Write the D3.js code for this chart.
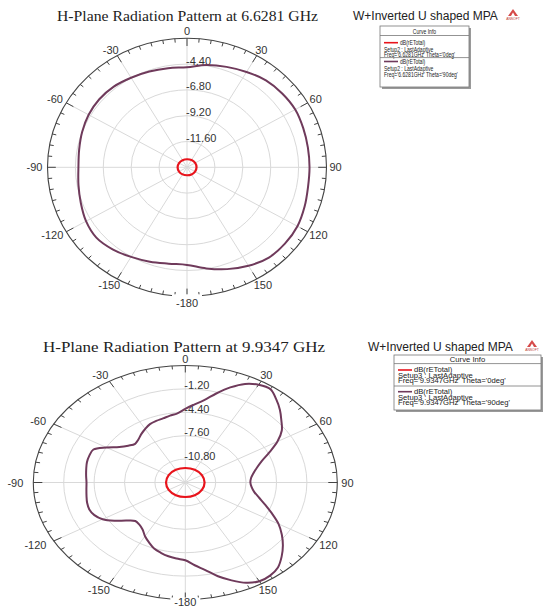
<!DOCTYPE html>
<html>
<head>
<meta charset="utf-8">
<script src="https://cdn.jsdelivr.net/npm/d3@7"></script>
<style>
  html, body { margin: 0; padding: 0; background: #fff; }
  svg { display: block; }
</style>
</head>
<body>
<svg id="chart" width="543" height="608"></svg>
<script>
// Angle ticks around each polar frame, clockwise from the top (degrees)
const angleTickValues = [0, 30, 60, 90, 120, 150, 180, 210, 240, 270, 300, 330];
const angleTickLabels = ["0", "30", "60", "90", "120", "150", "-180", "-150", "-120", "-90", "-60", "-30"];

const legendHeading = "W+Inverted U shaped MPA";
const legendHeader = "Curve Info";

// ---- 6.6281 GHz ----
const lowTitle = "H-Plane Radiation Pattern at 6.6281 GHz";
const lowRange = [-14, -2];
const lowRingLabels = ["-4.40", "-6.80", "-9.20", "-11.60"];
const lowAngles = [0, 10, 20, 30, 40, 50, 60, 70, 80, 90, 100, 110, 120, 130, 140, 150, 160, 170,
                   180, 190, 200, 210, 220, 230, 240, 250, 260, 270, 280, 290, 300, 310, 320, 330, 340, 350];
const lowTheta90 = [-4.69, -4.34, -4.06, -3.76, -3.44, -3.31, -3.25, -3.36, -3.44, -3.46, -3.43, -3.24,
                    -3.03, -2.98, -3.04, -3.42, -3.92, -4.45, -4.92, -4.90, -4.66, -4.38, -4.04, -3.82,
                    -3.97, -4.28, -4.52, -4.66, -4.58, -4.40, -4.23, -4.15, -4.20, -4.38, -4.52, -4.64];
const lowRedAngles = [0, 30, 60, 90, 120, 150, 180, 210, 240, 270, 300, 330];
const lowTheta0 = [-13.25, -13.22, -13.19, -13.18, -13.20, -13.23, -13.26, -13.24, -13.21, -13.19, -13.21, -13.24];
const lowLegendRows = [
  ["dB(rETotal)", "Setup2 : LastAdaptive", "Freq='6.6281GHz' Theta='0deg'"],
  ["dB(rETotal)", "Setup2 : LastAdaptive", "Freq='6.6281GHz' Theta='90deg'"]
];

// ---- 9.9347 GHz ----
const highTitle = "H-Plane Radiation Pattern at 9.9347 GHz";
const highRange = [-14, 2];
const highRingLabels = ["-1.20", "-4.40", "-7.60", "-10.80"];
const highAngles = d3.range(0, 360, 5);
const highTheta90 = [-3.92, -3.30, -2.56, -1.40, -0.16, 0.88, 1.44, 1.60, 0.88, 0.08, -0.80, -1.60,
                     -2.80, -4.24, -5.44, -6.20, -6.72, -7.05, -7.15, -7.00, -6.64, -5.95, -5.04, -3.92,
                     -2.67, -1.60, -0.59, 0.34, 1.17, 1.55, 1.60, 1.12, 0.24, -0.72, -1.84, -2.64,
                     -3.36, -3.56, -3.76, -4.05, -4.40, -4.96, -5.52, -6.16, -6.48, -6.56, -5.92, -4.88,
                     -3.95, -3.44, -3.25, -3.30, -3.44, -3.55, -3.60, -3.52, -3.41, -3.28, -3.25, -3.33,
                     -4.40, -5.52, -6.16, -6.53, -6.32, -5.92, -5.55, -5.20, -5.04, -4.93, -4.72, -4.50];
const highRedAngles = [0, 30, 60, 90, 120, 150, 180, 210, 240, 270, 300, 330];
const highTheta0 = [-12.02, -12.00, -11.98, -11.97, -11.98, -12.00, -12.02, -12.00, -11.98, -11.97, -11.98, -12.00];
const highLegendRows = [
  ["dB(rETotal)", "Setup3 : LastAdaptive", "Freq='9.9347GHz' Theta='0deg'"],
  ["dB(rETotal)", "Setup3 : LastAdaptive", "Freq='9.9347GHz' Theta='90deg'"]
];

const COLOR_THETA0 = "#e8141c";
const COLOR_THETA90 = "#6f3a5b";
const GRID = "#d9d9d9";
const LABEL = "#333";
const SANS = "Arial, 'Liberation Sans', sans-serif";
const SERIF = "'Times New Roman', 'Liberation Serif', serif";

const svg = d3.select("#chart");

function drawPolar(cfg) {
  const g = svg.append("g");
  const { cx, cy, rx, ry } = cfg;
  const f = d3.scaleLinear().domain(cfg.range).range([0, 1]);
  const rad = d => d * Math.PI / 180;
  const pt = (deg, k) => [cx + rx * k * Math.sin(rad(deg)), cy - ry * k * Math.cos(rad(deg))];

  // grid rings
  const ringVals = cfg.ringLabels.map(Number);
  g.selectAll(".ring").data(ringVals).join("ellipse")
    .attr("cx", cx).attr("cy", cy)
    .attr("rx", v => rx * f(v)).attr("ry", v => ry * f(v))
    .attr("fill", "none").attr("stroke", GRID).attr("stroke-width", 1);

  // spokes
  g.selectAll(".spoke").data(angleTickValues).join("line")
    .attr("x1", cx).attr("y1", cy)
    .attr("x2", a => pt(a, 1)[0]).attr("y2", a => pt(a, 1)[1])
    .attr("stroke", GRID).attr("stroke-width", 1);

  // outer frame with tick marks every 5 degrees
  g.append("ellipse").attr("cx", cx).attr("cy", cy).attr("rx", rx).attr("ry", ry)
    .attr("fill", "none").attr("stroke", "#444").attr("stroke-width", 1.1);
  const tickLen = 4 / ((rx + ry) / 2);
  g.selectAll(".tick").data(d3.range(0, 360, 5)).join("line")
    .attr("x1", a => pt(a, 1)[0]).attr("y1", a => pt(a, 1)[1])
    .attr("x2", a => pt(a, 1 - (a % 30 === 0 ? 2 : 1) * tickLen)[0])
    .attr("y2", a => pt(a, 1 - (a % 30 === 0 ? 2 : 1) * tickLen)[1])
    .attr("stroke", "#444").attr("stroke-width", 1);

  // angle labels
  angleTickValues.forEach((a, i) => {
    const t = g.append("text").text(angleTickLabels[i])
      .attr("font-family", SANS).attr("font-size", 11).attr("fill", LABEL)
      .attr("text-anchor", "middle").attr("dominant-baseline", "central");
    const w = t.node().getComputedTextLength();
    const s = Math.sin(rad(a)), c = Math.cos(rad(a));
    const [px, py] = pt(a, 1);
    const gap = s < -1e-6 ? cfg.gapNeg : cfg.gapPos;
    const vgap = a === 180 ? cfg.vgap180 : 7;
    const x = px + (w / 2 + gap) * s;
    const y = py - vgap * c;
    t.attr("x", x).attr("y", y);
    if (a === 180) {
      g.insert("rect", () => t.node())
        .attr("x", x - w / 2 - 4).attr("y", py - 2).attr("width", w + 8).attr("height", 14)
        .attr("fill", "#fff");
    }
  });

  // ring value labels along the 0 degree spoke
  g.selectAll(".rlab").data(cfg.ringLabels).join("text")
    .text(d => d)
    .attr("x", cx - 1).attr("y", d => cy - ry * f(+d) + 0.5)
    .attr("font-family", SANS).attr("font-size", 11).attr("fill", LABEL);

  // pattern traces
  const line = d3.line().curve(d3.curveCatmullRomClosed.alpha(0.5));
  const trace = (angles, vals, color, width) => {
    g.append("path")
      .attr("d", line(angles.map((a, i) => pt(a, f(vals[i])))))
      .attr("fill", "none").attr("stroke", color).attr("stroke-width", width)
      .attr("stroke-linejoin", "round");
  };
  trace(cfg.angles90, cfg.theta90, COLOR_THETA90, 2);
  trace(cfg.angles0, cfg.theta0, COLOR_THETA0, 2.2);

  // title
  g.append("text").text(cfg.title)
    .attr("x", cfg.titleX).attr("y", cfg.titleY)
    .attr("text-anchor", "middle")
    .attr("font-family", SERIF).attr("font-size", 14).attr("fill", "#222")
    .attr("textLength", cfg.titleW).attr("lengthAdjust", "spacingAndGlyphs");

  // legend
  const L = cfg.legend;
  g.append("text").text(legendHeading)
    .attr("x", L.headX).attr("y", L.headY)
    .attr("font-family", SANS).attr("font-size", 12).attr("fill", "#222");
  // logo mark
  const lg = g.append("g").attr("transform", `translate(${L.logoX},${L.logoY})`);
  lg.append("path").attr("d", "M0,7 L5,0 L10,7 Z").attr("fill", "#d64a4a");
  lg.append("path").attr("d", "M3,7 L5,3.5 L7,7 Z").attr("fill", "#fff");
  lg.append("text").text("ANSOFT").attr("x", 5).attr("y", 10.5).attr("text-anchor", "middle")
    .attr("font-family", SANS).attr("font-size", 3.4).attr("fill", "#b33");

  g.append("rect").attr("x", L.x + 2).attr("y", L.y + 2).attr("width", L.w).attr("height", L.h)
    .attr("fill", "#9a9a9a");
  g.append("rect").attr("x", L.x).attr("y", L.y).attr("width", L.w).attr("height", L.h)
    .attr("fill", "#fff").attr("stroke", "#777").attr("stroke-width", 0.8);

  const small = (txt, x, y, anchor) => {
    const t = g.append("text").text(txt).attr("x", x).attr("y", y)
      .attr("font-family", SANS).attr("font-size", L.font).attr("fill", "#222")
      .attr("text-anchor", anchor || "start");
    const w = t.node().getComputedTextLength();
    t.attr("textLength", w * L.sx).attr("lengthAdjust", "spacingAndGlyphs");
    return t;
  };
  small(legendHeader, L.x + L.w / 2, L.headerBase, "middle");
  g.append("line").attr("x1", L.x).attr("x2", L.x + L.w).attr("y1", L.headerLine).attr("y2", L.headerLine)
    .attr("stroke", "#777").attr("stroke-width", 0.8);
  const colors = [COLOR_THETA0, COLOR_THETA90];
  L.rows.forEach((r, i) => {
    g.append("line").attr("x1", L.x + 4).attr("x2", L.x + 4 + L.swatch)
      .attr("y1", r.swatchY).attr("y2", r.swatchY)
      .attr("stroke", colors[i]).attr("stroke-width", 1.6);
    small(cfg.legendRows[i][0], L.x + 6 + L.swatch, r.lines[0]);
    small(cfg.legendRows[i][1], L.x + 4, r.lines[1]);
    small(cfg.legendRows[i][2], L.x + 4, r.lines[2]);
    if (i === 0) {
      g.append("line").attr("x1", L.x).attr("x2", L.x + L.w).attr("y1", r.sep).attr("y2", r.sep)
        .attr("stroke", "#777").attr("stroke-width", 0.8);
    }
  });
}

drawPolar({
  cx: 187, cy: 167.3, rx: 139.5, ry: 129,
  range: lowRange, ringLabels: lowRingLabels,
  angles90: lowAngles, theta90: lowTheta90,
  angles0: lowRedAngles, theta0: lowTheta0,
  gapPos: 3, gapNeg: 5, vgap180: 7,
  title: lowTitle, titleX: 187.5, titleY: 20.7, titleW: 261,
  legendRows: lowLegendRows,
  legend: {
    headX: 353, headY: 20, logoX: 508, logoY: 9,
    x: 380, y: 26, w: 89, h: 61, font: 8, sx: 0.63, swatch: 14,
    headerBase: 33.8, headerLine: 35.5,
    rows: [
      { swatchY: 42.7, lines: [45, 51.8, 57], sep: 57.6 },
      { swatchY: 61.5, lines: [63.8, 70.8, 77] }
    ]
  }
});

drawPolar({
  cx: 185.3, cy: 482.5, rx: 152, ry: 117,
  range: highRange, ringLabels: highRingLabels,
  angles90: highAngles, theta90: highTheta90,
  angles0: highRedAngles, theta0: highTheta0,
  gapPos: 4, gapNeg: 10, vgap180: 2,
  title: highTitle, titleX: 184, titleY: 352.3, titleW: 282,
  legendRows: highLegendRows,
  legend: {
    headX: 368, headY: 351, logoX: 527, logoY: 340,
    x: 394, y: 355, w: 147, h: 55, font: 7.5, sx: 1.02, swatch: 14,
    headerBase: 362, headerLine: 363.6,
    rows: [
      { swatchY: 370, lines: [372, 377.7, 383], sep: 386 },
      { swatchY: 391.7, lines: [393.8, 399.7, 405.4] }
    ]
  }
});
</script>
</body>
</html>
